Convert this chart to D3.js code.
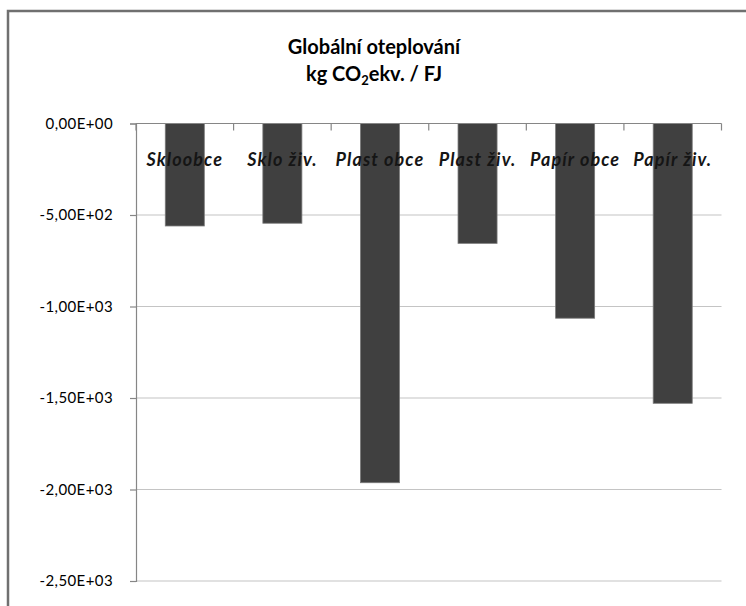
<!DOCTYPE html>
<html><head><meta charset="utf-8">
<script src="https://cdn.jsdelivr.net/npm/d3@7"></script>
<style>html,body{margin:0;padding:0;background:#fff;}svg{display:block;}</style>
</head><body>
<svg id="chart" width="746" height="606"></svg>
<script>
const categories = ["Skloobce", "Sklo živ.", "Plast obce", "Plast živ.", "Papír obce", "Papír živ."];
const values = [-560, -545, -1963, -655, -1064, -1529];
const yTicks = [0, -500, -1000, -1500, -2000, -2500];
const titleLine1 = "Globální oteplování";

const svg = d3.select("#chart");
const W = 746, H = 606;
const plot = {left: 136, right: 721.5, top: 123.5, bottom: 581};
const FONT = "Lato, 'Open Sans', sans-serif";

// outer chart border (cropped at right/bottom)
svg.append("path")
  .attr("d", `M8,${H} L8,11 L${W},11`)
  .attr("fill", "none").attr("stroke", "#707070").attr("stroke-width", 2.5);

const y = d3.scaleLinear().domain([-2500, 0]).range([plot.bottom, plot.top]);
const x = d3.scaleBand().domain(categories).range([plot.left, plot.right])
  .paddingInner(0.6).paddingOuter(0.3);

// gridlines
svg.append("g").selectAll("line").data(yTicks.filter(d => d !== 0)).join("line")
  .attr("x1", plot.left).attr("x2", plot.right)
  .attr("y1", d => y(d)).attr("y2", d => y(d))
  .attr("stroke", "#c4c4c4").attr("stroke-width", 1.2);

// bars
svg.append("g").selectAll("rect").data(categories).join("rect")
  .attr("x", d => x(d))
  .attr("y", y(0))
  .attr("width", x.bandwidth())
  .attr("height", (d, i) => y(values[i]) - y(0))
  .attr("fill", "#404040").attr("stroke", "#7a7a7a").attr("stroke-width", 0.8);

// y axis
const fmt = v => {
  const s = d3.format(".2e")(v).replace("\u2212", "-");
  let [m, e] = s.split("e");
  const sign = e[0] === "\u2212" ? "-" : e[0];
  e = e.slice(1).padStart(2, "0");
  return m.replace(".", ",") + "E" + sign + e;
};
const yAxis = svg.append("g").attr("transform", `translate(${plot.left},0)`)
  .call(d3.axisLeft(y).tickValues(yTicks).tickFormat(fmt).tickSize(6).tickPadding(17));
yAxis.select(".domain").attr("stroke", "#868686").attr("stroke-width", 1.2);
yAxis.selectAll(".tick line").attr("stroke", "#868686").attr("stroke-width", 1.2);
yAxis.selectAll(".tick text").attr("font-family", FONT)
  .attr("font-size", 15).attr("letter-spacing", 0.4).attr("fill", "#000");

// x axis at zero with boundary ticks pointing down
const xg = svg.append("g");
xg.append("line").attr("x1", plot.left).attr("x2", plot.right)
  .attr("y1", y(0)).attr("y2", y(0)).attr("stroke", "#868686").attr("stroke-width", 1.2);
const step = x.step();
const boundaries = d3.range(categories.length + 1).map(i => plot.left + i * step);
xg.selectAll("line.tk").data(boundaries).join("line").attr("class", "tk")
  .attr("x1", d => d).attr("x2", d => d)
  .attr("y1", y(0)).attr("y2", y(0) + 7)
  .attr("stroke", "#868686").attr("stroke-width", 1.2);

// category labels
svg.append("g").selectAll("text").data(categories).join("text")
  .attr("x", d => x(d) + x.bandwidth() / 2)
  .attr("y", 166)
  .attr("text-anchor", "middle")
  .attr("font-family", FONT)
  .attr("font-weight", "bold").attr("font-style", "italic")
  .attr("font-size", 18).attr("letter-spacing", 1.1).attr("fill", "#151515")
  .text(d => d);

// title
const title = svg.append("text").attr("text-anchor", "middle")
  .attr("font-family", FONT).attr("font-weight", "bold")
  .attr("font-size", 20).attr("fill", "#000");
title.append("tspan").attr("x", 374).attr("y", 54).text(titleLine1);
const t2 = svg.append("text").attr("text-anchor", "middle")
  .attr("font-family", FONT).attr("font-weight", "bold")
  .attr("font-size", 20).attr("fill", "#000").attr("x", 374).attr("y", 81);
t2.append("tspan").text("kg CO");
t2.append("tspan").attr("font-size", 13).attr("dy", 4).text("2");
t2.append("tspan").attr("dy", -4).text("ekv. / FJ");
</script>
</body></html>
